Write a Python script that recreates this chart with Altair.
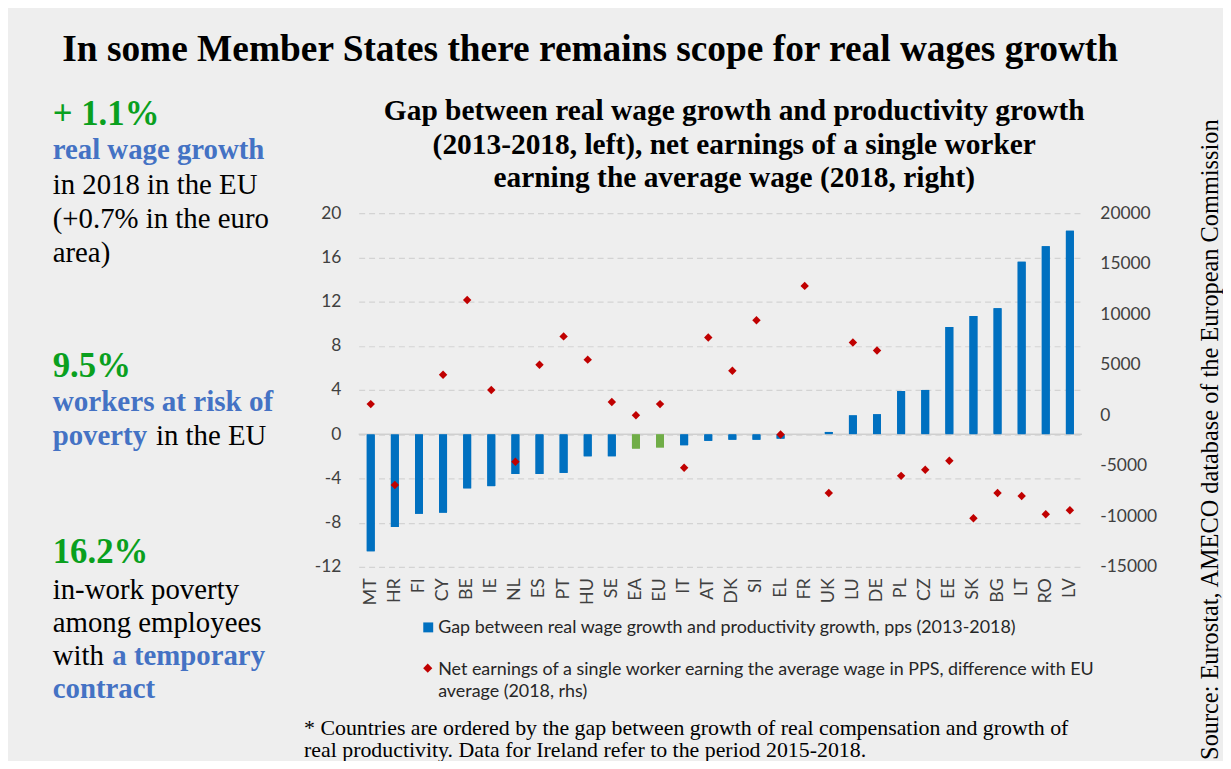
import altair as alt
import pandas as pd

countries = ["MT", "HR", "FI", "CY", "BE", "IE", "NL", "ES", "PT", "HU", "SE", "EA", "EU", "IT", "AT",
             "DK", "SI", "EL", "FR", "UK", "LU", "DE", "PL", "CZ", "EE", "SK", "BG", "LT", "RO", "LV"]
gap_pps = [-10.6, -8.4, -7.2, -7.1, -4.9, -4.7, -3.6, -3.6, -3.5, -2.0, -2.0, -1.3, -1.2, -1.0, -0.6,
           -0.5, -0.5, -0.4, 0.0, 0.2, 1.7, 1.8, 3.9, 4.0, 9.7, 10.7, 11.4, 15.6, 17.0, 18.4]
net_earnings_diff = [1100, -6900, None, 4000, 11400, 2500, -4600, 5000, 7800, 5500, 1300, 0, 1100, -5200, 7700,
                     4400, 9400, -1900, 12800, -7700, 7200, 6400, -6000, -5400, -4500, -10200, -7700, -8000, -9800, -9400]
aggregates = ["EA", "EU"]

left_ticks = [-12, -8, -4, 0, 4, 8, 12, 16, 20]
right_ticks = [-15000, -10000, -5000, 0, 5000, 10000, 15000, 20000]

df = pd.DataFrame({
    "country": countries,
    "gap": gap_pps,
    "net": net_earnings_diff,
    "kind": ["agg" if c in aggregates else "ms" for c in countries],
})

# page -> plot-area coordinates (plot area origin at page x=361, y=212)
OX, OY = 361, 212
def X(px):
    return alt.value(px - OX)
def Y(py):
    return alt.value(py - OY)

one = pd.DataFrame({"k": [0]})
SERIF = "Liberation Serif"
SANS = "Lato"
GREEN = "#0aa01e"
BLUE = "#4472c4"
HYPHEN = "replace(datum.label, '\u2212', '-')"

xenc = alt.X("country:N", sort=countries,
             scale=alt.Scale(paddingInner=0, paddingOuter=0),
             axis=alt.Axis(title="", labelAngle=-90, domain=False, ticks=False, labelPadding=11,
                           labelFontSize=18, labelFont=SANS, labelColor="#404040"))

left_scale = alt.Scale(domain=[-12, 20], nice=False, zero=False)

zero = alt.Chart(one).mark_rule(color="#cfcfcf", strokeWidth=1.5).encode(
    y=alt.Y(datum=0, scale=left_scale),
)

bars = alt.Chart(df).mark_bar(size=8).encode(
    x=xenc,
    y=alt.Y("gap:Q", scale=left_scale,
            axis=alt.Axis(title="", orient="left", values=left_ticks, grid=True, gridDash=[6, 4],
                          gridColor="#d3d3d3", gridWidth=1.2, domain=False, ticks=False, labelPadding=18,
                          labelFontSize=17.5, labelFont=SANS, labelColor="#404040", labelExpr=HYPHEN)),
    color=alt.Color("kind:N", scale=alt.Scale(domain=["ms", "agg"], range=["#0070c0", "#70ad47"]), legend=None),
)

inner = alt.layer(bars, zero, bars)

points = alt.Chart(df).mark_point(shape="diamond", filled=True, size=72, opacity=1, color="#c00000").encode(
    x=xenc,
    y=alt.Y("net:Q", scale=alt.Scale(domain=[-15000, 20000], nice=False, zero=False),
            axis=alt.Axis(title="", orient="right", values=right_ticks, format="d", grid=False, domain=False,
                          ticks=False, labelPadding=18, labelAlign="left", labelFontSize=17.5, labelFont=SANS,
                          labelColor="#404040", labelExpr=HYPHEN)),
)

def txt(text, px, py, size, color="black", weight="normal", font=SERIF, align="left", angle=0,
        baseline="alphabetic", line_height=None):
    kw = dict(text=text, fontSize=size, color=color, fontWeight=weight, font=font, align=align,
              baseline=baseline)
    if angle:
        kw["angle"] = angle
    if line_height:
        kw["lineHeight"] = line_height
    return alt.Chart(one).mark_text(**kw).encode(x=X(px), y=Y(py))

annotations = [
    txt("In some Member States there remains scope for real wages growth", 594, 59, 37.6, weight="bold", align="center"),
    txt(["Gap between real wage growth and productivity growth",
         "(2013-2018, left), net earnings of a single worker",
         "earning the average wage (2018, right)"], 739, 118, 29.6, weight="bold", align="center", line_height=34),
    # left panel
    txt("+ 1.1%", 53, 123, 35, color=GREEN, weight="bold"),
    txt("real wage growth", 53, 158, 29, color=BLUE, weight="bold"),
    txt(["in 2018 in the EU", "(+0.7% in the euro", "area)"], 53, 193, 29, line_height=34),
    txt("9.5%", 53, 377, 35, color=GREEN, weight="bold"),
    txt("workers at risk of", 53, 411, 29.3, color=BLUE, weight="bold"),
    txt("poverty", 53, 445, 29, color=BLUE, weight="bold"),
    txt("in the EU", 157, 445, 29),
    txt("16.2%", 53, 564, 35, color=GREEN, weight="bold"),
    txt(["in-work poverty", "among employees"], 53, 600, 29, line_height=33.5),
    txt("with", 53, 667, 29),
    txt("a temporary", 113, 667, 29, color=BLUE, weight="bold"),
    txt("contract", 53, 700, 29, color=BLUE, weight="bold"),
    # legend
    txt("Gap between real wage growth and productivity growth, pps (2013-2018)", 441, 635, 18, font=SANS,
        color="#262626"),
    txt(["Net earnings of a single worker earning the average wage in PPS, difference with EU",
         "average (2018, rhs)"], 441, 677, 18, font=SANS, color="#262626", line_height=22),
    # footnote
    txt("* Countries are ordered by the gap between growth of real compensation and growth of",
        306, 737, 22),
    txt("real productivity. Data for Ireland refer to the period 2015-2018.", 306, 759, 22),
    # source
    txt("Source: Eurostat, AMECO database of the European Commission", 1219, 440, 24.5, angle=270,
        align="center", baseline="middle"),
]

legend_square = alt.Chart(one).mark_point(shape="square", filled=True, size=100, opacity=1, color="#0070c0").encode(
    x=X(431), y=Y(629))
legend_diamond = alt.Chart(one).mark_point(shape="diamond", filled=True, size=85, opacity=1, color="#c00000").encode(
    x=X(430.5), y=Y(670))

main = alt.layer(inner, points).resolve_scale(y="independent")

chart = alt.layer(main, legend_square, legend_diamond, *annotations).properties(
    width=728, height=356,
    autosize="none",
    padding={"left": 353, "top": 204, "right": 142, "bottom": 193},
    background="#eeeeee",
).configure_view(strokeWidth=0)

chart.save("out.html", embed_options={"renderer": "svg", "actions": False})
